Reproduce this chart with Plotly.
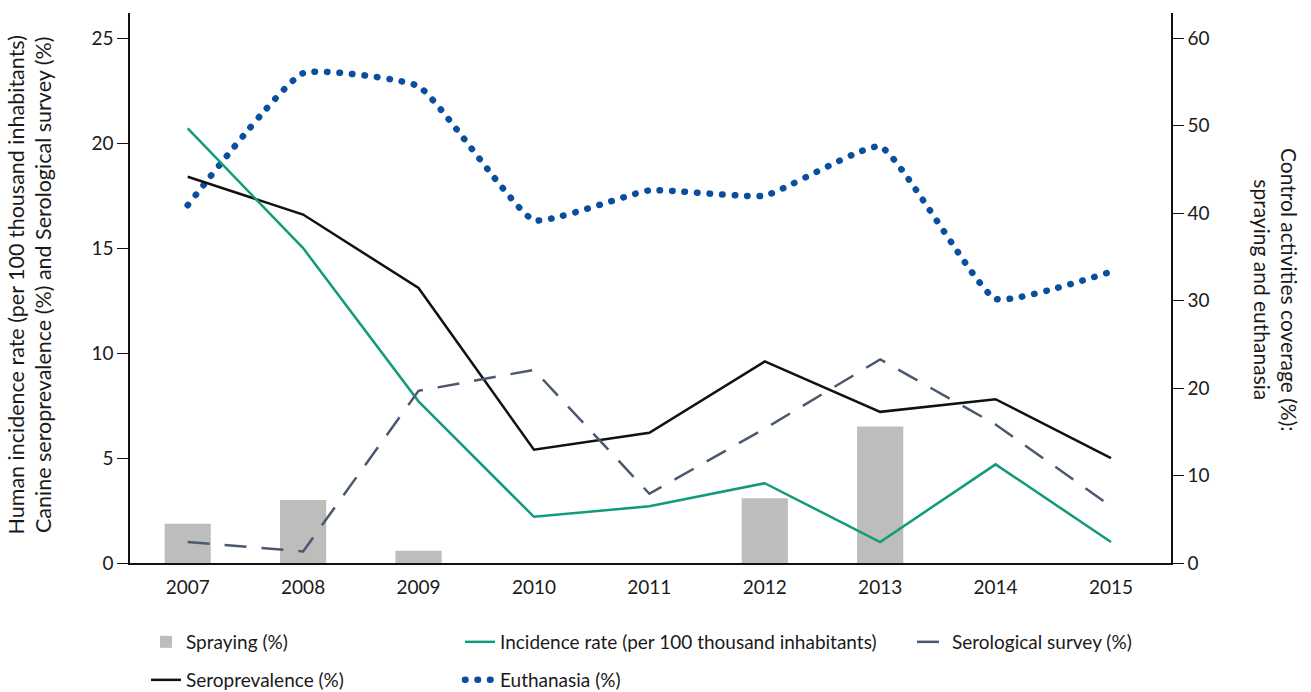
import plotly.graph_objects as go

years = [2007, 2008, 2009, 2010, 2011, 2012, 2013, 2014, 2015]
spraying = [4.5, 7.2, 1.4, 0, 0, 7.4, 15.6, 0, 0]
incidence = [20.7, 15.0, 7.7, 2.2, 2.7, 3.8, 1.0, 4.7, 1.0]
seroprev = [18.4, 16.6, 13.1, 5.4, 6.2, 9.6, 7.2, 7.8, 5.0]
serosurvey = [1.0, 0.55, 8.2, 9.2, 3.3, 6.4, 9.7, 6.6, 2.7]
euthanasia = [40.9, 56.0, 54.5, 39.2, 42.6, 42.0, 47.6, 30.2, 33.3]

left_ticks = [0, 5, 10, 15, 20, 25]
right_ticks = [0, 10, 20, 30, 40, 50, 60]

FONT = "Lato"
TXT = "#1a1a1a"
EUTH_COLOR = "rgb(10, 79, 158)"

fig = go.Figure()

# base axis "y" = right-hand control coverage axis (drawn underneath), "y2" = left-hand axis overlay
fig.add_trace(go.Bar(x=years, y=spraying, name="Spraying (%)", yaxis="y",
                     marker=dict(color="#bdbdbb", line=dict(width=0)), width=0.4,
                     legend="legend"))
fig.add_trace(go.Scatter(x=years, y=euthanasia, name="Euthanasia (%)", mode="lines", yaxis="y",
                         line=dict(color=EUTH_COLOR, width=6.5, dash="0.5px,12px", shape="spline", smoothing=0.4),
                         legend="legend4"))
fig.add_trace(go.Scatter(x=years, y=seroprev, name="Seroprevalence (%)", mode="lines", yaxis="y2",
                         line=dict(color="#111111", width=2.5), legend="legend2"))
fig.add_trace(go.Scatter(x=years, y=incidence, name="Incidence rate (per 100 thousand inhabitants)",
                         mode="lines", yaxis="y2", line=dict(color="#119b7b", width=2.5), legend="legend3"))
fig.add_trace(go.Scatter(x=years, y=serosurvey, name="Serological survey (%)", mode="lines", yaxis="y2",
                         line=dict(color="#4b5870", width=2.5, dash="22px,15px"), legend="legend5"))

PL, PR, PT, PB = 130, 1171, 13, 563
W, H = 1311, 692

def px2x(p):
    return (p - PL) / (PR - PL)

def py2y(p):
    return (PB - p) / (PB - PT)

leg_common = dict(orientation="v", xanchor="left", yanchor="middle", bgcolor="rgba(0,0,0,0)",
                  font=dict(family=FONT, size=19, color=TXT), borderwidth=0)

row1, row2 = 642, 680
fig.update_layout(
    width=W, height=H,
    margin=dict(l=PL, r=W - PR, t=PT, b=H - PB, autoexpand=False),
    plot_bgcolor="white", paper_bgcolor="white",
    font=dict(family=FONT, size=19, color=TXT),
    showlegend=True,
    legend=dict(x=px2x(146), y=py2y(row1), **leg_common),
    legend2=dict(x=px2x(146), y=py2y(row2), **leg_common),
    legend3=dict(x=px2x(460), y=py2y(row1), **leg_common),
    legend4=dict(x=px2x(460), y=py2y(row2), **leg_common),
    legend5=dict(x=px2x(912), y=py2y(row1), **leg_common),
    xaxis=dict(range=[2006.5, 2015.52], tickvals=years, ticktext=[str(y) for y in years],
               showline=True, linecolor="#111", linewidth=1.5, ticks="outside", ticklen=6,
               tickcolor="rgba(0,0,0,0)", showgrid=False, zeroline=False, tickfont=dict(size=19)),
    yaxis=dict(range=[0, 62.88], tickvals=right_ticks, side="right", showline=True,
               linecolor="#111", linewidth=1.5, ticks="outside", ticklen=11, tickcolor="#111",
               showgrid=False, zeroline=False, tickfont=dict(size=19)),
    yaxis2=dict(range=[0, 26.2], tickvals=left_ticks, overlaying="y", side="left", showline=True,
                linecolor="#111", linewidth=1.5, ticks="outside", ticklen=11, tickcolor="#111",
                showgrid=False, zeroline=False, tickfont=dict(size=19)),
)

fig.add_annotation(xref="paper", yref="paper", x=px2x(29.5), y=py2y(285), xanchor="center", yanchor="middle",
                   textangle=-90, showarrow=False,
                   text="Human incidence rate (per 100 thousand inhabitants)<br>Canine seroprevalence (%) and Serological survey (%)",
                   font=dict(family=FONT, size=21.5, color=TXT))
fig.add_annotation(xref="paper", yref="paper", x=px2x(1276), y=py2y(290), xanchor="center", yanchor="middle",
                   textangle=90, showarrow=False,
                   text="Control activities coverage (%):<br>spraying and euthanasia",
                   font=dict(family=FONT, size=21, color=TXT))

css = ("body{margin:0;overflow:hidden;} "
       "path.js-line[style*=\"%s\"]{stroke-linecap:round;}") % EUTH_COLOR
post = ("document.body.style.margin='0';"
        "var s=document.createElement('style');"
        "s.textContent=%r;"
        "document.head.appendChild(s);") % css

fig.write_html("out.html", post_script=post, config={"displayModeBar": False})
